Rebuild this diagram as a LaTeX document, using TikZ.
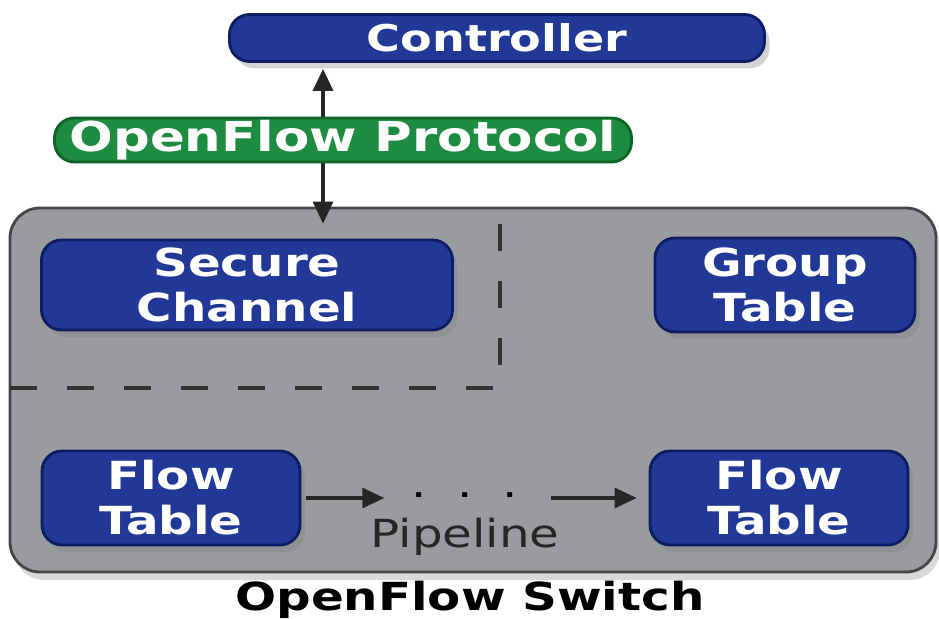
\documentclass[tikz,border=0pt]{standalone}
\usepackage{fontspec}
\setmainfont[FakeStretch=1.25]{DejaVu Sans}
\usetikzlibrary{positioning,shadows,arrows.meta}
\definecolor{bxb}{RGB}{33,56,150}
\definecolor{bxd}{RGB}{14,28,100}
\definecolor{gnp}{RGB}{30,140,64}
\definecolor{gnd}{RGB}{12,100,40}
\definecolor{swg}{RGB}{154,155,158}
\definecolor{swd}{RGB}{70,70,72}
\tikzset{
    tbl/.style={draw=bxd,fill=bxb,text=white,line width=0.8pt,rounded corners=2mm,
        align=center,inner sep=0pt,font=\bfseries\fontsize{11}{12.8}\selectfont,
        drop shadow={shadow xshift=0.5mm,shadow yshift=-0.7mm,opacity=0.35}},
    prot/.style={draw=gnd,fill=gnp,text=white,line width=0.8pt,rounded corners=2mm,
        inner sep=0pt,font=\bfseries\fontsize{11.7}{13}\selectfont},
    conn/.style={black!85,line width=0.9pt},
    tip/.style={-{Triangle[length=2.2mm,width=2mm]}}
}

\begin{document}
\begin{tikzpicture}
    \useasboundingbox (0,0) rectangle (9.39,6.18);
    % switch body
    \draw [swd,fill=swg,line width=0.8pt,rounded corners=3mm,
        drop shadow={shadow xshift=0.4mm,shadow yshift=-0.8mm,opacity=0.3}]
        (0.10,0.46) rectangle (9.36,4.10);
    \draw [black!80,line width=1pt,dash pattern=on 2.7mm off 3mm]
        (0.10,2.30) -- (5.00,2.30) -- (5.00,4.10);
    \node [tbl,minimum width=5.35cm,minimum height=0.47cm,
        font=\bfseries\fontsize{10.5}{12}\selectfont] (ctrl) at (4.97,5.80) {Controller};
    \node [tbl,minimum width=4.11cm,minimum height=0.90cm] (sc) at (2.47,3.33) {Secure\\Channel};
    \node [tbl,minimum width=2.60cm,minimum height=0.94cm] (gt) at (7.85,3.33) {Group\\Table};
    \node [tbl,minimum width=2.58cm,minimum height=0.94cm] (ft1) at (1.71,1.20) {Flow\\Table};
    \node [tbl,minimum width=2.58cm,minimum height=0.94cm] (ft2) at (7.79,1.20) {Flow\\Table};
    \coordinate (tap) at (3.23,0);
    \draw [conn,{Triangle[length=2.2mm,width=2mm]}-{Triangle[length=2.2mm,width=2mm]},
        shorten <=1.5mm,shorten >=0.6mm] (sc.north -| tap) -- (ctrl.south -| tap);
    \node [prot,minimum width=5.77cm,minimum height=0.44cm] (proto) at (3.43,4.78) {OpenFlow Protocol};
    % pipeline
    \node [minimum width=1.6cm,inner sep=0pt,text height=0pt,text depth=0pt,
        font=\fontsize{11}{13}\selectfont] (dots)
        at (4.65,1.20) {\raisebox{-0.28em}{·\hspace{3mm}·\hspace{3mm}·}};
    \draw [conn,tip,shorten <=0.5mm] (ft1) -- (dots);
    \draw [conn,tip,shorten <=0.5mm,shorten >=1.2mm] (dots) -- (ft2);
    \node [text=black!85,font=\fontsize{11}{13}\selectfont] (pipe) at (4.65,0.81) {Pipeline};
    \node [font=\bfseries\fontsize{11}{13}\selectfont] (sw) at (4.70,0.18) {OpenFlow Switch};
\end{tikzpicture}
\end{document}
